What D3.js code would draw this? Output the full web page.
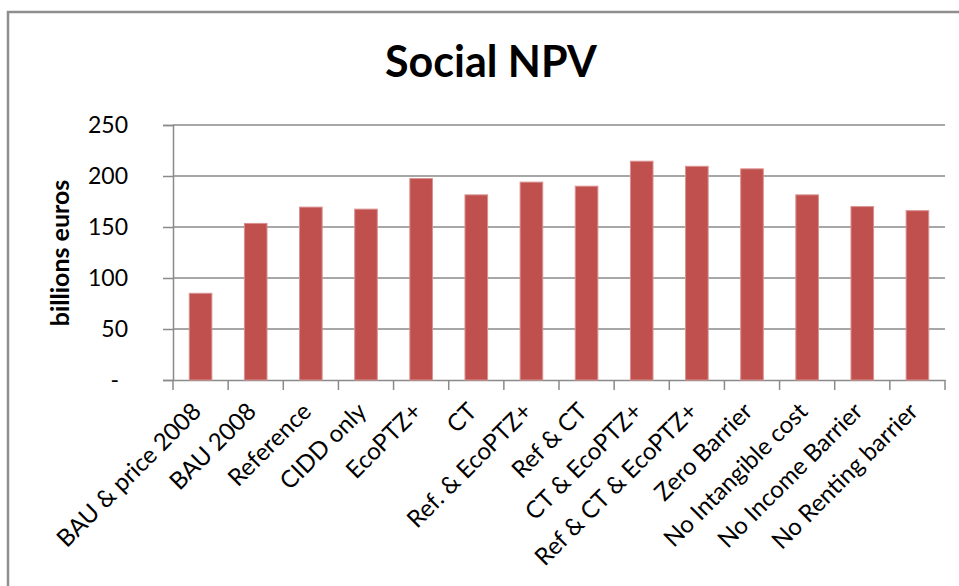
<!DOCTYPE html>
<html>
<head>
<meta charset="utf-8">
<script src="https://cdn.jsdelivr.net/npm/d3@7"></script>
<style>
  body { margin: 0; background: #fff; }
  svg { display: block; font-family: Lato, "Open Sans", sans-serif; }
</style>
</head>
<body>
<div id="main_chart"></div>
<script>
const categories = [
  "BAU & price 2008", "BAU 2008", "Reference", "CIDD only", "EcoPTZ+", "CT",
  "Ref. & EcoPTZ+", "Ref & CT", "CT & EcoPTZ+", "Ref & CT & EcoPTZ+",
  "Zero Barrier", "No Intangible cost", "No Income Barrier", "No Renting barrier"
];
const npvValues = [85, 153.5, 169.5, 167.5, 197.5, 181.5, 194, 190, 214.5, 209.5, 207, 181.5, 170, 166];
const yTicks = [0, 50, 100, 150, 200, 250];

const width = 959;
const height = 586;
const marginTop = 125;
const marginRight = 14;
const marginBottom = 206;
const marginLeft = 173;

const svg = d3.create("svg").attr("width", width).attr("height", height);

// chart frame (runs off the right and bottom edges)
svg.append("rect")
  .attr("x", 8).attr("y", 12)
  .attr("width", 1000).attr("height", 700)
  .attr("fill", "#fff")
  .attr("stroke", "#8e8e8e")
  .attr("stroke-width", 2.5);

const x = d3.scaleBand()
  .domain(categories)
  .range([marginLeft, width - marginRight])
  .paddingInner(0.59)
  .paddingOuter(0.295);

const y = d3.scaleLinear()
  .domain([0, 250])
  .range([height - marginBottom, marginTop]);

// gridlines
svg.append("g")
  .selectAll("line")
  .data(yTicks.slice(1))
  .join("line")
  .attr("x1", marginLeft).attr("x2", width - marginRight)
  .attr("y1", d => y(d)).attr("y2", d => y(d))
  .attr("stroke", "#8a8a8a")
  .attr("stroke-width", 1.5);

// y axis
const yAxis = svg.append("g")
  .attr("transform", `translate(${marginLeft},0)`)
  .call(d3.axisLeft(y).tickValues(yTicks).tickSize(10).tickPadding(35)
    .tickFormat(d => d === 0 ? "-" : d));
yAxis.select(".domain").attr("stroke", "#8a8a8a").attr("stroke-width", 1.5);
yAxis.selectAll(".tick line").attr("stroke", "#8a8a8a").attr("stroke-width", 1.5);
yAxis.selectAll(".tick text")
  .attr("font-size", 23)
  .attr("fill", "#000")
  .attr("font-family", "Lato, sans-serif")
  .attr("dx", d => d === 0 ? -9 : 0);

// x axis
const bandStep = x.step();
const xAxis = svg.append("g")
  .attr("transform", `translate(0,${height - marginBottom})`)
  .call(d3.axisBottom(x).tickSize(0).tickFormat(""));
xAxis.select(".domain").attr("stroke", "#8a8a8a").attr("stroke-width", 1.5);
svg.append("g")
  .selectAll("line")
  .data(d3.range(categories.length + 1))
  .join("line")
  .attr("x1", i => marginLeft + i * bandStep)
  .attr("x2", i => marginLeft + i * bandStep)
  .attr("y1", height - marginBottom)
  .attr("y2", height - marginBottom + 10)
  .attr("stroke", "#8a8a8a")
  .attr("stroke-width", 1.5);

svg.append("g")
  .selectAll("text")
  .data(categories)
  .join("text")
  .attr("transform", d => `translate(${x(d) + x.bandwidth() / 2 - 4},${height - marginBottom + 27}) rotate(-45)`)
  .attr("text-anchor", "end")
  .attr("dy", "0.35em")
  .attr("font-size", 24)
  .attr("fill", "#000")
  .text(d => d);

// bars
svg.append("g")
  .selectAll("rect")
  .data(npvValues)
  .join("rect")
  .attr("x", (d, i) => x(categories[i]))
  .attr("y", d => y(d))
  .attr("width", x.bandwidth())
  .attr("height", d => y(0) - y(d))
  .attr("fill", "#c0504d")
  .attr("stroke", "#d9918f")
  .attr("stroke-width", 1);

// y label
svg.append("text")
  .attr("transform", `translate(69,253) rotate(-90)`)
  .attr("text-anchor", "middle")
  .attr("font-size", 25)
  .attr("font-weight", "bold")
  .attr("fill", "#000")
  .text("billions euros");

// title
svg.append("text")
  .attr("x", 491)
  .attr("y", 77)
  .attr("text-anchor", "middle")
  .attr("font-size", 43)
  .attr("font-weight", "bold")
  .attr("fill", "#000")
  .text("Social NPV");

document.getElementById("main_chart").append(svg.node());
</script>
</body>
</html>
